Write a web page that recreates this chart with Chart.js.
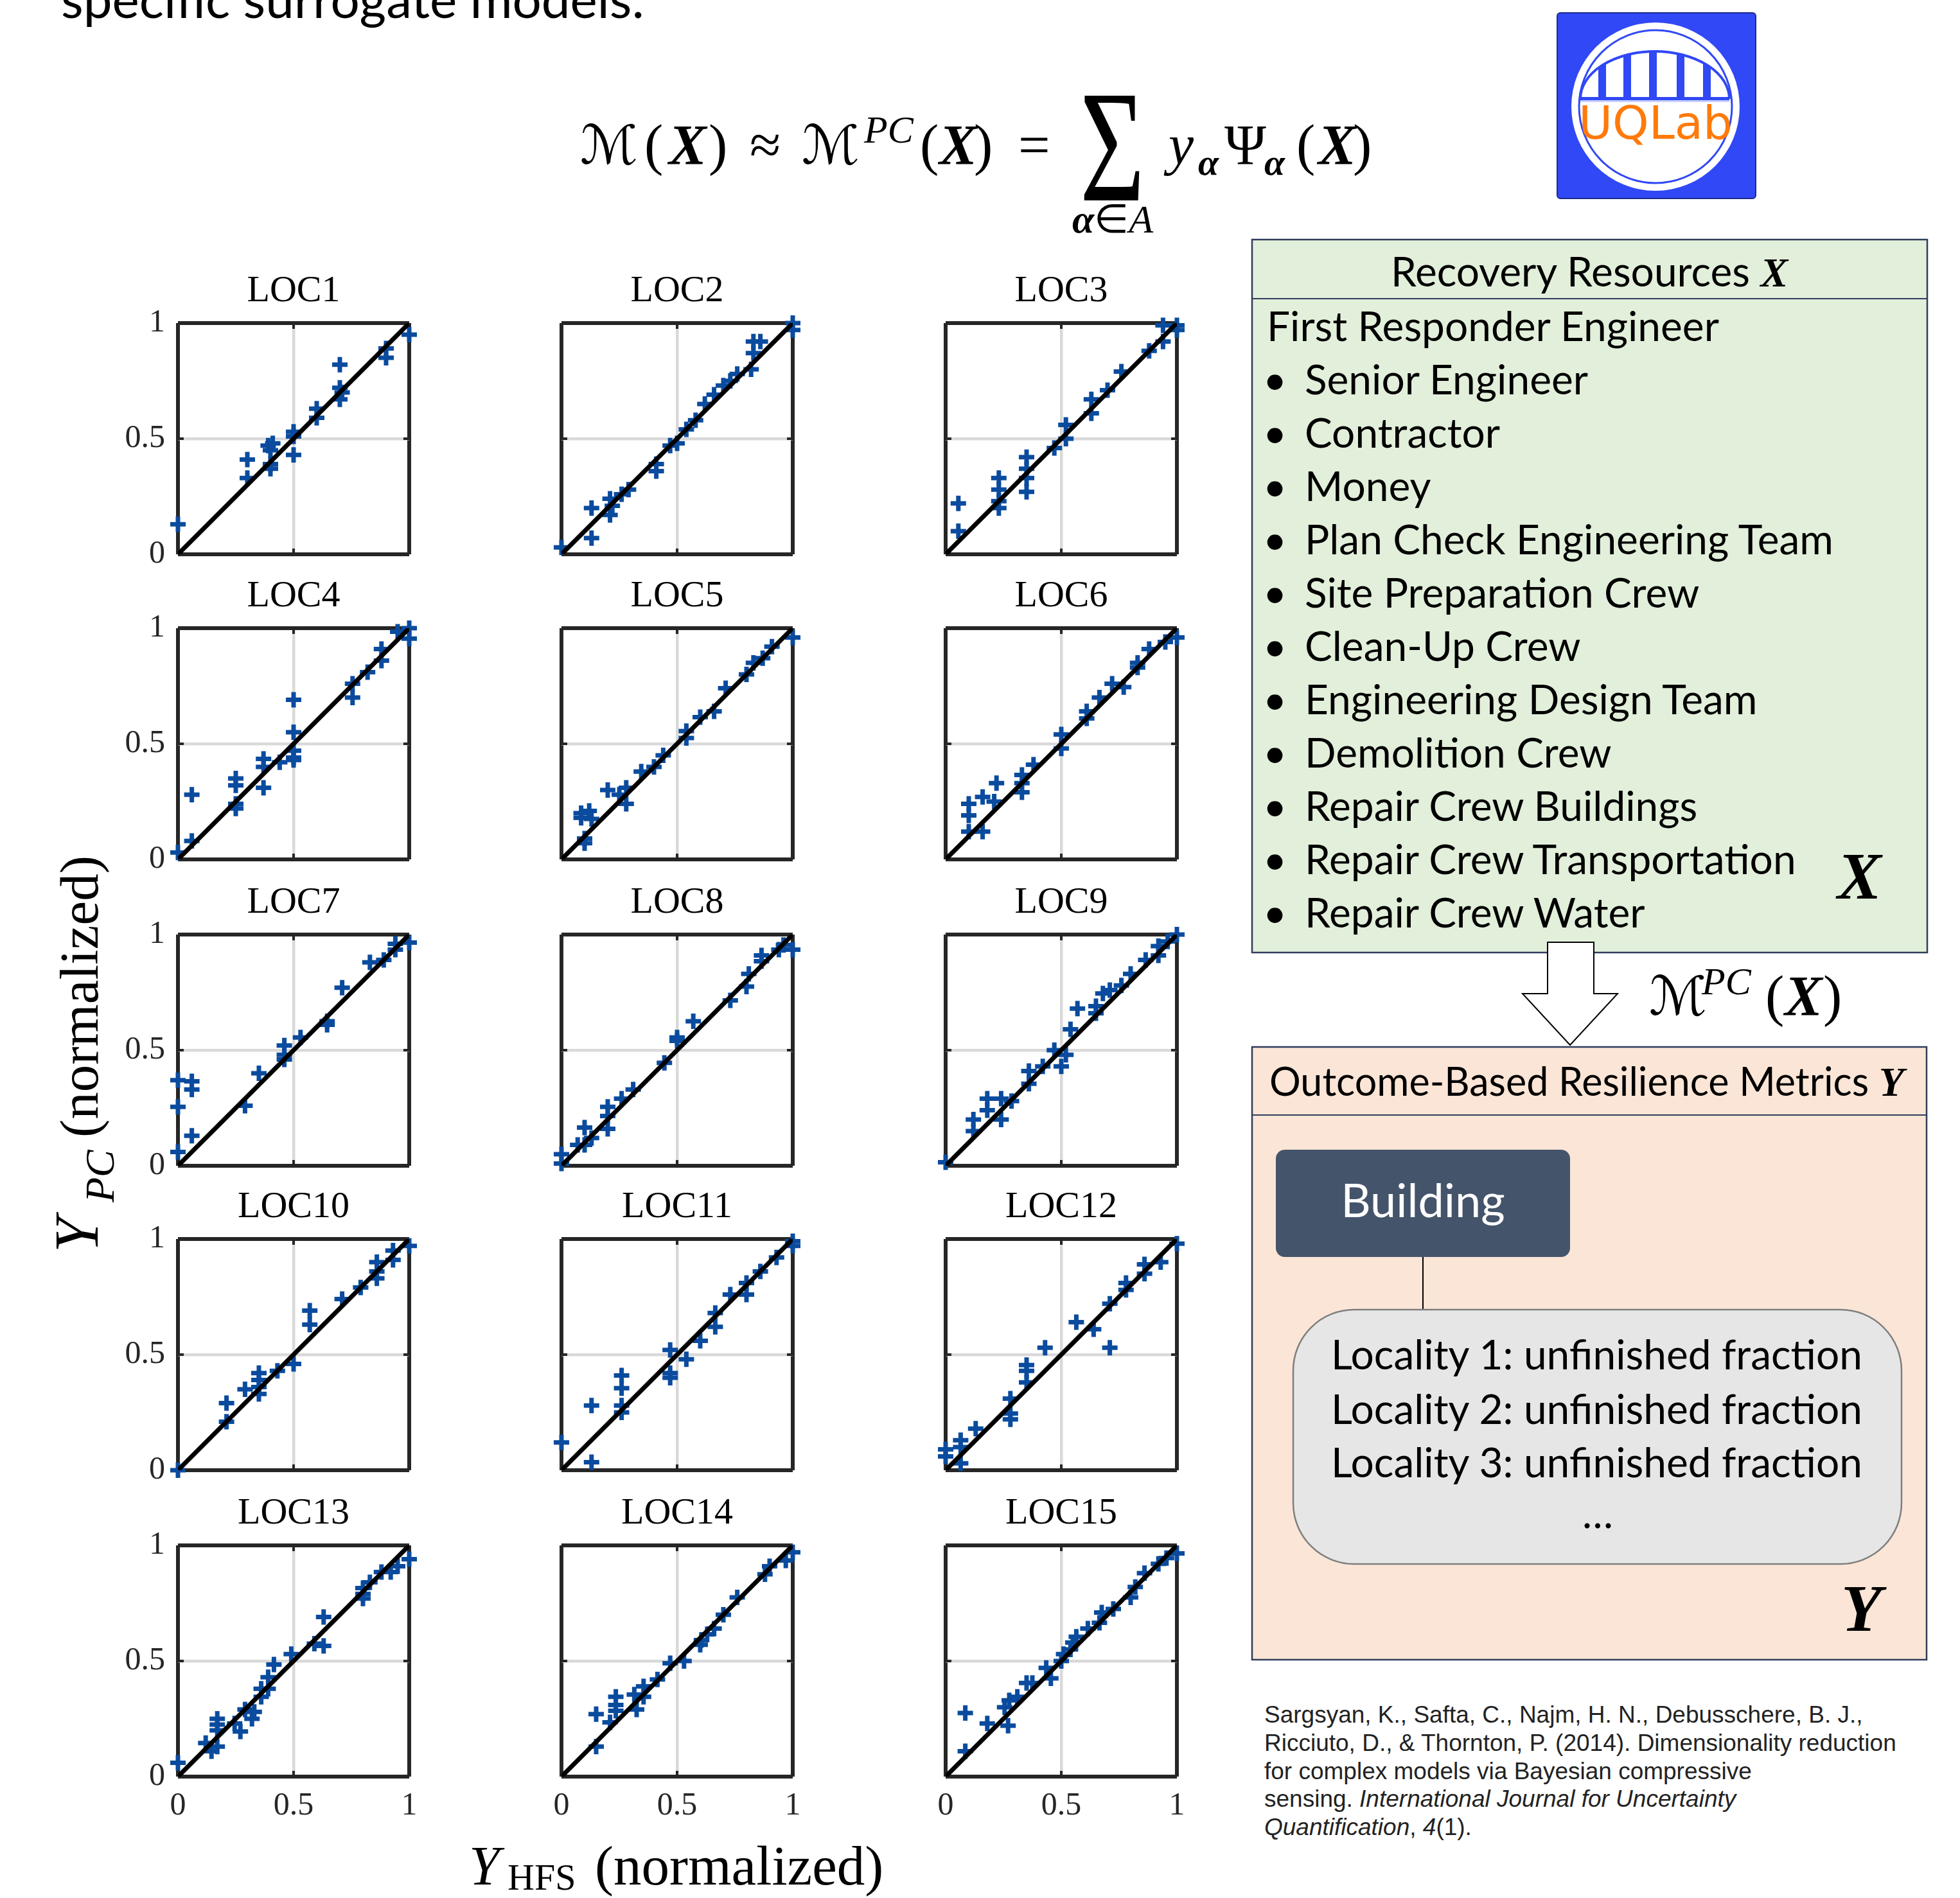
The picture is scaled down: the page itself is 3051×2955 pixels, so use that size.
<!DOCTYPE html>
<html>
<head>
<meta charset="utf-8">
<title>Locality surrogate models</title>
<script src="https://cdn.jsdelivr.net/npm/chart.js@4.4.0/dist/chart.umd.min.js"></script>
<style>
  html, body { margin: 0; padding: 0; background: #fff; }
  #page { position: relative; width: 3051px; height: 2955px; overflow: hidden; background: #fff; }
  #page > svg { position: absolute; left: 0; top: 0; }
  .panel { position: absolute; }
</style>
</head>
<body>
<div id="page">
<svg id="art" width="3051" height="2955" viewBox="0 0 3051 2955" xmlns="http://www.w3.org/2000/svg">
  <defs>
    <clipPath id="archClip">
      <path d="M2460,154 A116,74 0 0 1 2692,154 Z"/>
    </clipPath>
  </defs>

  <!-- lead-in sentence, running off the top edge -->
  <text x="95" y="28" font-family="Lato" font-size="80" fill="#000">specific surrogate models:</text>

  <!-- polynomial chaos expansion -->
  <g font-family="Liberation Serif" font-size="88" fill="#000">
    <text x="903" y="255" font-family="DejaVu Serif, DejaVu Sans" font-size="84">ℳ</text>
    <text x="1003" y="255">(</text>
    <text x="1041" y="255" font-weight="bold" font-style="italic">X</text>
    <text x="1103" y="255">)</text>
    <text x="1167" y="255">≈</text>
    <text x="1248" y="255" font-family="DejaVu Serif, DejaVu Sans" font-size="84">ℳ</text>
    <text x="1345" y="222" font-style="italic" font-size="60">PC</text>
    <text x="1432" y="255">(</text>
    <text x="1462" y="255" font-weight="bold" font-style="italic">X</text>
    <text x="1516" y="255">)</text>
    <text x="1585" y="255">=</text>
    <text transform="translate(1681,312) scale(0.7,1)" font-size="248">Σ</text>
    <text x="1732" y="362" text-anchor="middle" font-size="62"><tspan font-weight="bold" font-style="italic">α</tspan>∈<tspan font-style="italic">A</tspan></text>
    <text x="1819" y="255" font-style="italic">y</text>
    <text x="1865" y="272" font-weight="bold" font-style="italic" font-size="58">α</text>
    <text x="1906" y="255">Ψ</text>
    <text x="1968" y="272" font-weight="bold" font-style="italic" font-size="58">α</text>
    <text x="2018" y="255">(</text>
    <text x="2052" y="255" font-weight="bold" font-style="italic">X</text>
    <text x="2106" y="255">)</text>
  </g>

  <!-- UQLab badge -->
  <g>
    <rect x="2424" y="20" width="309" height="289" rx="5" fill="#3048f5" stroke="#1c2a8c" stroke-width="2"/>
    <circle cx="2577" cy="166" r="131" fill="#fff"/>
    <circle cx="2577" cy="166" r="119" fill="none" stroke="#3048f5" stroke-width="3"/>
    <g clip-path="url(#archClip)" fill="#3048f5">
      <rect x="2488" y="60" width="12" height="100"/>
      <rect x="2527" y="60" width="12" height="100"/>
      <rect x="2567" y="60" width="12" height="100"/>
      <rect x="2610" y="60" width="12" height="100"/>
      <rect x="2651" y="60" width="12" height="100"/>
    </g>
    <path d="M2460,154 A116,74 0 0 1 2692,154" fill="none" stroke="#3048f5" stroke-width="4"/>
    <rect x="2460" y="151" width="232" height="5" fill="#3048f5"/>
    <rect x="2460" y="156" width="232" height="3" fill="#c8d0ff"/>
    <text x="2577" y="216" text-anchor="middle" font-family="DejaVu Sans" font-size="72" fill="#ff7a0a">UQLab</text>
  </g>

  <!-- input resources box -->
  <rect x="1949" y="373" width="1051" height="1110" fill="#e2efda" stroke="#2f3d5c" stroke-width="2.5"/>
  <line x1="1949" y1="465" x2="3000" y2="465" stroke="#2f3d5c" stroke-width="2"/>
  <text x="2474" y="446" text-anchor="middle" font-family="Lato" font-size="64" fill="#000">Recovery Resources <tspan font-family="Liberation Serif" font-weight="bold" font-style="italic">X</tspan></text>
  <g id="resourceList" font-family="Lato" font-size="64" fill="#000"></g>
  <text x="2860" y="1399" font-family="Liberation Serif" font-weight="bold" font-style="italic" font-size="103" fill="#000">X</text>

  <!-- mapping arrow -->
  <polygon points="2409,1467 2481,1467 2481,1547 2518,1547 2444,1627 2370,1547 2409,1547" fill="#fff" stroke="#000" stroke-width="2"/>
  <g font-family="Liberation Serif" font-size="88" fill="#000">
    <text x="2567" y="1580" font-family="DejaVu Serif, DejaVu Sans" font-size="84">ℳ</text>
    <text x="2649" y="1548" font-style="italic" font-size="60">PC</text>
    <text x="2748" y="1580">(</text>
    <text x="2778" y="1580" font-weight="bold" font-style="italic">X</text>
    <text x="2838" y="1580">)</text>
  </g>

  <!-- output metrics box -->
  <rect x="1949" y="1630" width="1050" height="954" fill="#fbe5d6" stroke="#2f3d5c" stroke-width="2.5"/>
  <line x1="1949" y1="1736" x2="2999" y2="1736" stroke="#2f3d5c" stroke-width="2"/>
  <text x="1976" y="1706" font-family="Lato" font-size="61" fill="#000">Outcome-Based Resilience Metrics <tspan font-family="Liberation Serif" font-weight="bold" font-style="italic" font-size="64">Y</tspan></text>
  <rect x="1986" y="1790" width="458" height="167" rx="14" fill="#44546a"/>
  <text x="2215" y="1895" text-anchor="middle" font-family="Lato" font-size="72" fill="#fff">Building</text>
  <line x1="2215" y1="1957" x2="2215" y2="2039" stroke="#000" stroke-width="2"/>
  <rect x="2013" y="2039" width="947" height="396" rx="95" fill="#e7e6e6" stroke="#7f7f7f" stroke-width="2.5"/>
  <g font-family="Lato" font-size="64" fill="#000">
    <text x="2072" y="2132">Locality 1: unfinished fraction</text>
    <text x="2072" y="2217">Locality 2: unfinished fraction</text>
    <text x="2072" y="2300">Locality 3: unfinished fraction</text>
    <text x="2487" y="2379" text-anchor="middle">…</text>
  </g>
  <text x="2866" y="2539" font-family="Liberation Serif" font-weight="bold" font-style="italic" font-size="103" fill="#000">Y</text>

  <!-- reference -->
  <g font-family="Liberation Sans" font-size="37" fill="#222">
    <text x="1968" y="2682">Sargsyan, K., Safta, C., Najm, H. N., Debusschere, B. J.,</text>
    <text x="1968" y="2726">Ricciuto, D., &amp; Thornton, P. (2014). Dimensionality reduction</text>
    <text x="1968" y="2770">for complex models via Bayesian compressive</text>
    <text x="1968" y="2813">sensing. <tspan font-style="italic">International Journal for Uncertainty</tspan></text>
    <text x="1968" y="2857"><tspan font-style="italic">Quantification</tspan>, <tspan font-style="italic">4</tspan>(1).</text>
  </g>

  <!-- shared axis labels -->
  <g transform="rotate(-90)" font-family="Liberation Serif" fill="#000">
    <text x="-1950" y="152" font-style="italic" font-size="98">Y</text>
    <text x="-1872" y="177" font-style="italic" font-size="64">PC</text>
    <text x="-1771" y="152" font-size="85">(normalized)</text>
  </g>
  <g font-family="Liberation Serif" fill="#000">
    <text x="730" y="2934" font-style="italic" font-size="86">Y</text>
    <text x="790" y="2942" font-size="58">HFS</text>
    <text x="926" y="2934" font-size="87">(normalized)</text>
  </g>
</svg>
</div>

<script>
// ---- panel titles and axis ticks ----
const panelTitles = ['LOC1', 'LOC2', 'LOC3', 'LOC4', 'LOC5', 'LOC6', 'LOC7', 'LOC8',
                     'LOC9', 'LOC10', 'LOC11', 'LOC12', 'LOC13', 'LOC14', 'LOC15'];
const tickValues = [0, 0.5, 1];
const tickText = ['0', '0.5', '1'];
const identityLine = [0, 1];

// ---- high-fidelity (x) vs. PC surrogate (y), normalized, per locality ----
const loc1X = [0.00, 0.30, 0.30, 0.39, 0.40, 0.40, 0.41, 0.40, 0.50, 0.50, 0.50, 0.60, 0.60, 0.70, 0.70, 0.70, 0.71, 0.90, 0.90, 1.00];
const loc1Y = [0.13, 0.41, 0.33, 0.47, 0.45, 0.39, 0.48, 0.37, 0.53, 0.51, 0.43, 0.63, 0.59, 0.82, 0.72, 0.67, 0.70, 0.89, 0.85, 0.95];

const loc2X = [0.00, 0.13, 0.13, 0.21, 0.21, 0.22, 0.26, 0.29, 0.41, 0.41, 0.47, 0.50, 0.54, 0.58, 0.62, 0.66, 0.70, 0.73, 0.76, 0.82, 0.83, 0.83, 0.86, 1.00, 1.00];
const loc2Y = [0.03, 0.20, 0.07, 0.24, 0.17, 0.21, 0.26, 0.28, 0.39, 0.36, 0.47, 0.48, 0.54, 0.58, 0.65, 0.69, 0.73, 0.75, 0.78, 0.80, 0.87, 0.92, 0.92, 0.97, 1.00];

const loc3X = [0.055, 0.055, 0.23, 0.23, 0.23, 0.23, 0.35, 0.35, 0.35, 0.35, 0.47, 0.52, 0.52, 0.63, 0.63, 0.70, 0.76, 0.88, 0.94, 0.94, 1.00, 1.00];
const loc3Y = [0.22, 0.10, 0.33, 0.28, 0.23, 0.20, 0.42, 0.37, 0.33, 0.27, 0.46, 0.50, 0.56, 0.61, 0.67, 0.71, 0.79, 0.88, 0.92, 0.99, 0.99, 0.97];

const loc4X = [0.00, 0.06, 0.06, 0.25, 0.25, 0.25, 0.25, 0.37, 0.37, 0.37, 0.44, 0.50, 0.50, 0.50, 0.50, 0.50, 0.755, 0.755, 0.82, 0.88, 0.88, 0.95, 1.00, 1.00];
const loc4Y = [0.03, 0.28, 0.08, 0.35, 0.32, 0.24, 0.22, 0.435, 0.40, 0.31, 0.42, 0.69, 0.55, 0.47, 0.44, 0.43, 0.76, 0.70, 0.81, 0.86, 0.91, 0.985, 1.00, 0.955];

const loc5X = [0.085, 0.085, 0.12, 0.13, 0.10, 0.10, 0.20, 0.25, 0.28, 0.28, 0.345, 0.40, 0.44, 0.54, 0.54, 0.60, 0.66, 0.71, 0.80, 0.83, 0.87, 0.91, 1.00];
const loc5Y = [0.20, 0.18, 0.21, 0.175, 0.09, 0.07, 0.30, 0.28, 0.24, 0.31, 0.38, 0.40, 0.45, 0.525, 0.555, 0.615, 0.64, 0.74, 0.80, 0.85, 0.87, 0.92, 0.96];

const loc6X = [0.10, 0.10, 0.10, 0.16, 0.16, 0.21, 0.22, 0.33, 0.33, 0.33, 0.38, 0.50, 0.50, 0.61, 0.61, 0.665, 0.72, 0.77, 0.83, 0.83, 0.88, 0.95, 1.00];
const loc6Y = [0.24, 0.19, 0.12, 0.27, 0.12, 0.25, 0.33, 0.365, 0.33, 0.29, 0.41, 0.54, 0.48, 0.64, 0.61, 0.70, 0.76, 0.745, 0.83, 0.85, 0.91, 0.94, 0.96];

const loc7X = [0.00, 0.00, 0.00, 0.06, 0.06, 0.06, 0.29, 0.35, 0.46, 0.46, 0.46, 0.53, 0.645, 0.645, 0.71, 0.83, 0.89, 0.94, 0.94, 1.00];
const loc7Y = [0.06, 0.255, 0.37, 0.365, 0.33, 0.13, 0.26, 0.40, 0.52, 0.48, 0.46, 0.555, 0.625, 0.61, 0.77, 0.88, 0.89, 0.935, 0.96, 0.965];

const loc8X = [0.00, 0.00, 0.07, 0.10, 0.10, 0.13, 0.20, 0.20, 0.20, 0.26, 0.31, 0.445, 0.50, 0.50, 0.57, 0.73, 0.80, 0.81, 0.865, 0.865, 0.94, 0.96, 1.00];
const loc8Y = [0.01, 0.05, 0.09, 0.165, 0.09, 0.12, 0.255, 0.215, 0.16, 0.29, 0.33, 0.445, 0.54, 0.555, 0.625, 0.715, 0.775, 0.83, 0.885, 0.91, 0.935, 0.955, 0.935];

const loc9X = [0.00, 0.12, 0.12, 0.18, 0.18, 0.24, 0.24, 0.285, 0.36, 0.36, 0.42, 0.50, 0.47, 0.52, 0.54, 0.57, 0.65, 0.65, 0.68, 0.71, 0.76, 0.80, 0.865, 0.92, 0.92, 0.96, 1.00];
const loc9Y = [0.015, 0.15, 0.20, 0.24, 0.29, 0.29, 0.20, 0.28, 0.355, 0.41, 0.43, 0.43, 0.50, 0.48, 0.59, 0.68, 0.69, 0.66, 0.745, 0.76, 0.78, 0.83, 0.89, 0.91, 0.95, 0.97, 1.00];

const loc10X = [0.00, 0.21, 0.21, 0.29, 0.35, 0.35, 0.35, 0.35, 0.43, 0.50, 0.57, 0.57, 0.71, 0.79, 0.86, 0.86, 0.86, 0.93, 0.93, 1.00];
const loc10Y = [0.00, 0.29, 0.21, 0.35, 0.42, 0.36, 0.33, 0.39, 0.43, 0.46, 0.69, 0.63, 0.74, 0.79, 0.83, 0.86, 0.90, 0.91, 0.95, 0.97];

const loc11X = [0.00, 0.13, 0.13, 0.26, 0.26, 0.26, 0.26, 0.47, 0.47, 0.47, 0.54, 0.60, 0.665, 0.665, 0.73, 0.80, 0.80, 0.86, 0.93, 1.00, 1.00];
const loc11Y = [0.12, 0.035, 0.28, 0.41, 0.355, 0.28, 0.25, 0.52, 0.42, 0.40, 0.48, 0.56, 0.68, 0.62, 0.76, 0.81, 0.76, 0.86, 0.92, 0.99, 0.97];

const loc12X = [0.00, 0.00, 0.065, 0.065, 0.065, 0.13, 0.28, 0.28, 0.28, 0.35, 0.35, 0.35, 0.43, 0.565, 0.64, 0.71, 0.71, 0.78, 0.78, 0.86, 0.86, 0.93, 1.00];
const loc12Y = [0.09, 0.06, 0.13, 0.10, 0.03, 0.18, 0.31, 0.245, 0.22, 0.455, 0.43, 0.38, 0.53, 0.64, 0.61, 0.53, 0.72, 0.81, 0.78, 0.89, 0.85, 0.90, 0.98];

const loc13X = [0.00, 0.12, 0.145, 0.17, 0.17, 0.17, 0.17, 0.245, 0.27, 0.29, 0.32, 0.33, 0.36, 0.36, 0.39, 0.39, 0.415, 0.49, 0.59, 0.63, 0.63, 0.80, 0.80, 0.80, 0.83, 0.88, 0.92, 0.95, 1.00];
const loc13Y = [0.06, 0.145, 0.11, 0.25, 0.225, 0.20, 0.13, 0.23, 0.195, 0.29, 0.25, 0.28, 0.345, 0.38, 0.38, 0.43, 0.485, 0.53, 0.575, 0.565, 0.69, 0.77, 0.815, 0.79, 0.84, 0.885, 0.885, 0.91, 0.94];

const loc14X = [0.15, 0.15, 0.21, 0.235, 0.235, 0.235, 0.315, 0.325, 0.355, 0.355, 0.415, 0.47, 0.53, 0.60, 0.605, 0.63, 0.66, 0.70, 0.76, 0.88, 0.90, 0.97, 1.00];
const loc14Y = [0.13, 0.27, 0.235, 0.345, 0.31, 0.285, 0.355, 0.29, 0.39, 0.345, 0.42, 0.49, 0.50, 0.57, 0.59, 0.615, 0.64, 0.70, 0.775, 0.875, 0.91, 0.935, 0.97];

const loc15X = [0.085, 0.085, 0.18, 0.27, 0.255, 0.275, 0.31, 0.35, 0.375, 0.435, 0.455, 0.50, 0.51, 0.54, 0.55, 0.565, 0.615, 0.665, 0.675, 0.725, 0.80, 0.82, 0.86, 0.92, 0.955, 1.00];
const loc15Y = [0.11, 0.275, 0.23, 0.22, 0.30, 0.33, 0.345, 0.405, 0.405, 0.47, 0.425, 0.50, 0.53, 0.55, 0.58, 0.605, 0.64, 0.665, 0.71, 0.725, 0.775, 0.82, 0.88, 0.92, 0.945, 0.965];

// ---- recovery resource list shown in the input box ----
const resourceHead = 'First Responder Engineer';
const resourceItems = ['Senior Engineer', 'Contractor', 'Money', 'Plan Check Engineering Team',
  'Site Preparation Crew', 'Clean-Up Crew', 'Engineering Design Team', 'Demolition Crew',
  'Repair Crew Buildings', 'Repair Crew Transportation', 'Repair Crew Water'];

const seriesX = [loc1X, loc2X, loc3X, loc4X, loc5X, loc6X, loc7X, loc8X, loc9X, loc10X, loc11X, loc12X, loc13X, loc14X, loc15X];
const seriesY = [loc1Y, loc2Y, loc3Y, loc4Y, loc5Y, loc6Y, loc7Y, loc8Y, loc9Y, loc10Y, loc11Y, loc12Y, loc13Y, loc14Y, loc15Y];

// ---- list text ----
(function fillList() {
  const NS = 'http://www.w3.org/2000/svg';
  const g = document.getElementById('resourceList');
  const line = (x, y, s) => {
    const t = document.createElementNS(NS, 'text');
    t.setAttribute('x', x); t.setAttribute('y', y); t.textContent = s;
    g.appendChild(t);
  };
  line(1972, 531, resourceHead);
  resourceItems.forEach((s, k) => {
    const y = 614 + k * 83;
    line(1966, y, '•');
    line(2031, y, s);
  });
})();

// ---- panel grid geometry ----
const colLeft = [277, 874, 1472];
const rowTop = [503, 978, 1455, 1929, 2406];
const PLOT = 360;
const AXIS_W = 140, AXIS_H = 90;
const PAD_T = 20, PAD_B = 40, PAD_R = 60;
const TITLE_SIZE = 58, TITLE_GAP = 20;
const CANVAS_W = AXIS_W + PLOT + PAD_R;
const CANVAS_H = PAD_T + TITLE_SIZE + TITLE_GAP + PLOT + AXIS_H + PAD_B;

const FRAME = '#262626';
const GRID = '#d9d9d9';
const MARK = '#0a4b9e';
const tickFont = { family: 'Liberation Serif', size: 50, weight: 'normal' };

// short inward tick marks on all four sides of each box
const innerTicks = {
  id: 'innerTicks',
  beforeDatasetsDraw(chart) {
    const { ctx, chartArea: a, scales: { x, y } } = chart;
    const len = 9;
    ctx.save();
    ctx.strokeStyle = FRAME;
    ctx.lineWidth = 4;
    ctx.beginPath();
    tickValues.forEach(v => {
      const px = x.getPixelForValue(v), py = y.getPixelForValue(v);
      ctx.moveTo(px, a.bottom); ctx.lineTo(px, a.bottom - len);
      ctx.moveTo(px, a.top); ctx.lineTo(px, a.top + len);
      ctx.moveTo(a.left, py); ctx.lineTo(a.left + len, py);
      ctx.moveTo(a.right, py); ctx.lineTo(a.right - len, py);
    });
    ctx.stroke();
    ctx.restore();
  }
};

const gridColor = c => (c.tick && c.tick.value === 0.5) ? GRID : FRAME;
const gridWidth = c => (c.tick && c.tick.value === 0.5) ? 4.5 : 6;

function buildPanel(i) {
  const row = Math.floor(i / 3), col = i % 3;
  const page = document.getElementById('page');
  const canvas = document.createElement('canvas');
  canvas.className = 'panel';
  canvas.width = CANVAS_W;
  canvas.height = CANVAS_H;
  canvas.style.width = CANVAS_W + 'px';
  canvas.style.height = CANVAS_H + 'px';
  canvas.style.left = (colLeft[col] - AXIS_W) + 'px';
  canvas.style.top = (rowTop[row] - PAD_T - TITLE_SIZE - TITLE_GAP) + 'px';
  page.appendChild(canvas);

  const pts = seriesX[i].map((x, k) => ({ x, y: seriesY[i][k] }));
  const diag = identityLine.map(v => ({ x: v, y: v }));

  const chart = new Chart(canvas, {
    type: 'scatter',
    data: {
      datasets: [
        { type: 'line', data: diag, borderColor: '#000', borderWidth: 7, pointRadius: 0,
          borderCapStyle: 'butt', fill: false, order: 0 },
        { data: pts, pointStyle: 'cross', pointRadius: 12, pointBorderWidth: 7,
          pointBorderColor: MARK, pointBackgroundColor: MARK, borderColor: MARK,
          backgroundColor: MARK, clip: false, order: 1 }
      ]
    },
    options: {
      responsive: false,
      animation: false,
      devicePixelRatio: 1,
      events: [],
      layout: { padding: { top: PAD_T, right: PAD_R, bottom: PAD_B, left: 0 } },
      plugins: {
        legend: { display: false },
        tooltip: { enabled: false },
        title: {
          display: true, text: panelTitles[i], color: '#000',
          fullSize: false,            // centre the title over the plotting box
          font: { family: 'Liberation Serif', size: TITLE_SIZE, weight: 'normal', lineHeight: 1 },
          padding: { top: 0, bottom: TITLE_GAP }
        }
      },
      scales: {
        x: {
          type: 'linear', min: 0, max: 1,
          afterBuildTicks: s => { s.ticks = tickValues.map(v => ({ value: v })); },
          afterFit: s => { s.height = AXIS_H; },
          grid: { color: gridColor, lineWidth: gridWidth, drawTicks: false },
          border: { display: false },
          ticks: { display: row === rowTop.length - 1, padding: 16, color: FRAME, font: tickFont,
                   maxRotation: 0, autoSkip: false, callback: (v, k) => tickText[k] }
        },
        y: {
          type: 'linear', min: 0, max: 1,
          afterBuildTicks: s => { s.ticks = tickValues.map(v => ({ value: v })); },
          afterFit: s => { s.width = AXIS_W; },
          grid: { color: gridColor, lineWidth: gridWidth, drawTicks: false },
          border: { display: false },
          ticks: { display: col === 0, padding: 20, color: FRAME, font: tickFont,
                   autoSkip: false, callback: (v, k) => tickText[k] }
        }
      }
    },
    plugins: [innerTicks]
  });

  // pin the plotting box to its slot in the 5 x 3 grid
  const a = chart.chartArea;
  canvas.style.left = (colLeft[col] - a.left) + 'px';
  canvas.style.top = (rowTop[row] - a.top) + 'px';
}

for (let i = 0; i < panelTitles.length; i++) buildPanel(i);
</script>
</body>
</html>
